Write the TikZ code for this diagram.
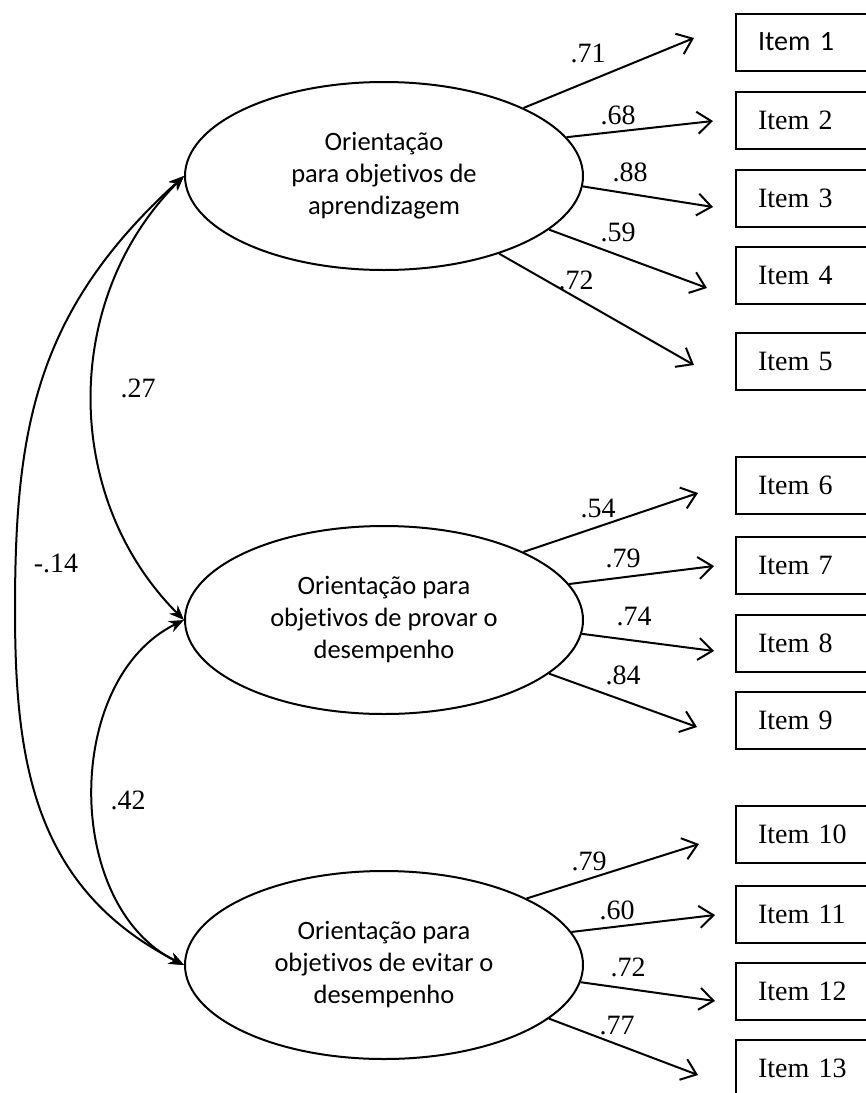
\documentclass[tikz,border=0pt]{standalone}
\usepackage{fontspec}
\setmainfont{Liberation Serif}
\newfontfamily\calibri[Ligatures=NoCommon]{Carlito}
\usetikzlibrary{shapes.geometric,arrows.meta}

\begin{document}
\begin{tikzpicture}[x=1pt,y=-1pt,
    lat/.style={ellipse,draw,line width=2pt,minimum width=398pt,minimum height=188pt,
      inner sep=0pt,align=center,font=\calibri\fontsize{26.5}{32}\selectfont},
    item/.style={draw,line width=2pt,anchor=west,minimum height=57pt,text width=111pt,
      inner xsep=22pt,inner ysep=0pt,align=left,font=\fontsize{28}{32}\selectfont},
    load/.style={line width=2pt,-{Straight Barb[length=14pt,width=22pt]}},
    cov/.style={line width=2pt,{Stealth[length=15pt,width=12pt]}-{Stealth[length=15pt,width=12pt]}},
    coef/.style={inner sep=0pt,font=\fontsize{28}{32}\selectfont}]
        \useasboundingbox (0,0) rectangle (866,1093);
        \clip (0,0) rectangle (866,1093);

        % latent factors
        \node[lat] (L1) at (384,176) {Orientação\\ para objetivos de\\ aprendizagem};
        \node[lat] (L2) at (384,620) {Orientação para\\ objetivos de provar o\\ desempenho};
        \node[lat] (L3) at (384,965) {Orientação para\\ objetivos de evitar o\\ desempenho};

        % items
        \node[item,font=\calibri\fontsize{28}{32}\selectfont] (I1) at (735,42) {Item 1};
        \node[item] (I2) at (735,120) {Item 2};
        \node[item] (I3) at (735,198) {Item 3};
        \node[item] (I4) at (735,275) {Item 4};
        \node[item] (I5) at (735,361) {Item 5};
        \node[item] (I6) at (735,485) {Item 6};
        \node[item] (I7) at (735,565) {Item 7};
        \node[item] (I8) at (735,643) {Item 8};
        \node[item] (I9) at (735,720) {Item 9};
        \node[item] (I10) at (735,834) {Item 10};
        \node[item] (I11) at (735,914) {Item 11};
        \node[item] (I12) at (735,991) {Item 12};
        \node[item] (I13) at (735,1068) {Item 13};

        % arrow tips in front of the items
        \coordinate (T1) at (694,38);
        \coordinate (T2) at (713,121);
        \coordinate (T3) at (713,207);
        \coordinate (T4) at (707,288);
        \coordinate (T5) at (694,365);
        \coordinate (T6) at (698,493);
        \coordinate (T7) at (714,566);
        \coordinate (T8) at (714,651);
        \coordinate (T9) at (697,727);
        \coordinate (T10) at (699,844);
        \coordinate (T11) at (715,915);
        \coordinate (T12) at (715,1001);
        \coordinate (T13) at (698,1075);

        \draw[load] (L1.26) -- (T1);
        \draw[load] (L1.12) -- (T2);
        \draw[load] (L1.-3) -- (T3);
        \draw[load] (L1.-18) -- (T4);
        \draw[load] (L1.-34) -- (T5);
        \draw[load] (L2.26) -- (T6);
        \draw[load] (L2.11) -- (T7);
        \draw[load] (L2.-4) -- (T8);
        \draw[load] (L2.-18) -- (T9);
        \draw[load] (L3.25) -- (T10);
        \draw[load] (L3.10) -- (T11);
        \draw[load] (L3.-5) -- (T12);
        \draw[load] (L3.-18) -- (T13);

        \node[coef] (c1) at (588,53) {.71};
        \node[coef] (c2) at (618,115) {.68};
        \node[coef] (c3) at (630,172) {.88};
        \node[coef] (c4) at (618,232) {.59};
        \node[coef] (c5) at (576,280) {.72};
        \node[coef] (c6) at (598,508) {.54};
        \node[coef] (c7) at (623,558) {.79};
        \node[coef] (c8) at (634,616) {.74};
        \node[coef] (c9) at (623,675) {.84};
        \node[coef] (c10) at (589,861) {.79};
        \node[coef] (c11) at (617,910) {.60};
        \node[coef] (c12) at (628,967) {.72};
        \node[coef] (c13) at (617,1026) {.77};

        % correlations
        \coordinate (M13) at (15,610);
        \draw[cov] (L1.west) to[bend right=45] (L2.west);
        \draw[cov] (L1.west) .. controls (35,311) and (15,430) .. (M13)
            .. controls (15,760) and (33,888) .. (L3.west);
        \draw[cov] (L2.west) to[bend right=64] (L3.west);

        \node[coef] (r12) at (138,388) {.27};
        \node[coef] (r13) at (56,563) {-.14};
        \node[coef] (r23) at (128,800) {.42};

    \end{tikzpicture}
\end{document}
